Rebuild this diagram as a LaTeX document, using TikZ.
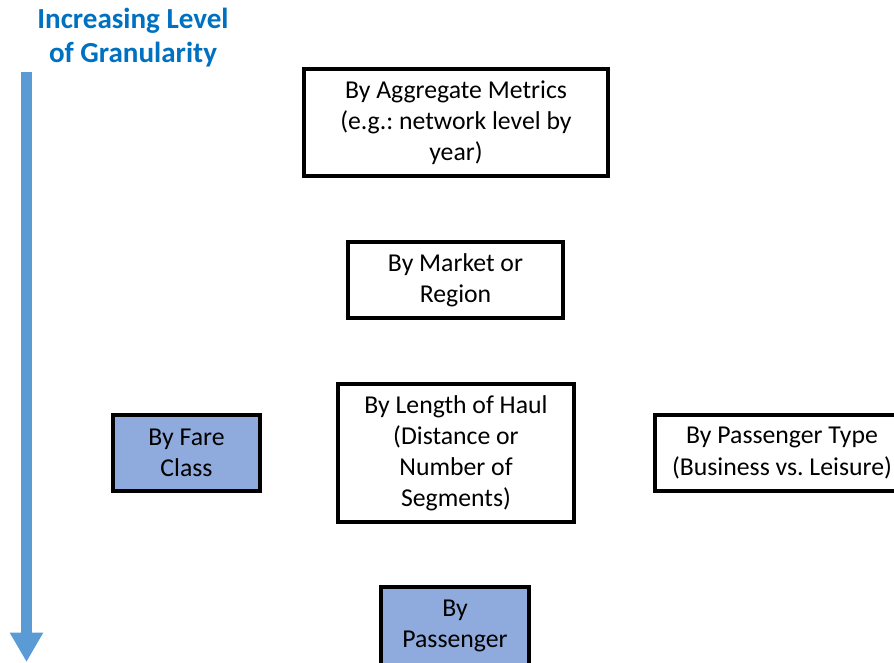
\documentclass[tikz,border=0pt]{standalone}
\usepackage{fontspec}
\setmainfont{Carlito}
\frenchspacing
\usetikzlibrary{arrows.meta}
\definecolor{titleblue}{HTML}{0070C0}
\definecolor{arrowblue}{HTML}{5B9BD5}
\definecolor{boxfill}{HTML}{8FAADC}
\begin{document}
\begin{tikzpicture}[x=0.75pt,y=-0.75pt,
  levelbox/.style={draw=black,line width=2.3pt,fill=white,align=center,
    inner sep=0pt,font=\fontsize{19.3}{23.3}\selectfont},
  shadedbox/.style={levelbox,fill=boxfill},
  titletext/.style={text=titleblue,align=center,
    font=\fontsize{21.8}{25.5}\selectfont\bfseries}]
\useasboundingbox (0,0) rectangle (894,662);
\clip (0,0) rectangle (894,662);
% title and granularity arrow
\node[titletext] (title) at (133,37.5) {Increasing Level\\of Granularity};
\coordinate (arrtop) at (26.5,72);
\coordinate (arrbot) at (26.5,662);
\draw[arrowblue,line width=8.3pt,-{Triangle[length=22pt,width=23.5pt]}] (arrtop) -- (arrbot);
% boxes
\node[levelbox,minimum width=304*0.75pt,minimum height=107*0.75pt] (agg) at (456,122.5)
  {By Aggregate Metrics\\(e.g.: network level by\\year)};
\node[levelbox,minimum width=215*0.75pt,minimum height=76*0.75pt] (market) at (455.5,280)
  {By Market or\\Region};
\node[levelbox,minimum width=236*0.75pt,minimum height=138*0.75pt] (haul) at (456,453)
  {By Length of Haul\\(Distance or\\Number of\\Segments)};
\node[shadedbox,minimum width=147*0.75pt,minimum height=76*0.75pt] (fare) at (186.5,453)
  {By Fare\\Class};
\node[levelbox,minimum width=254*0.75pt,minimum height=76*0.75pt] (ptype) at (782,453)
  {By Passenger Type\\(Business vs. Leisure)};
\node[shadedbox,minimum width=148*0.75pt,minimum height=78*0.75pt] (pass) at (455,626)
  {By\\Passenger};
\end{tikzpicture}
\end{document}
